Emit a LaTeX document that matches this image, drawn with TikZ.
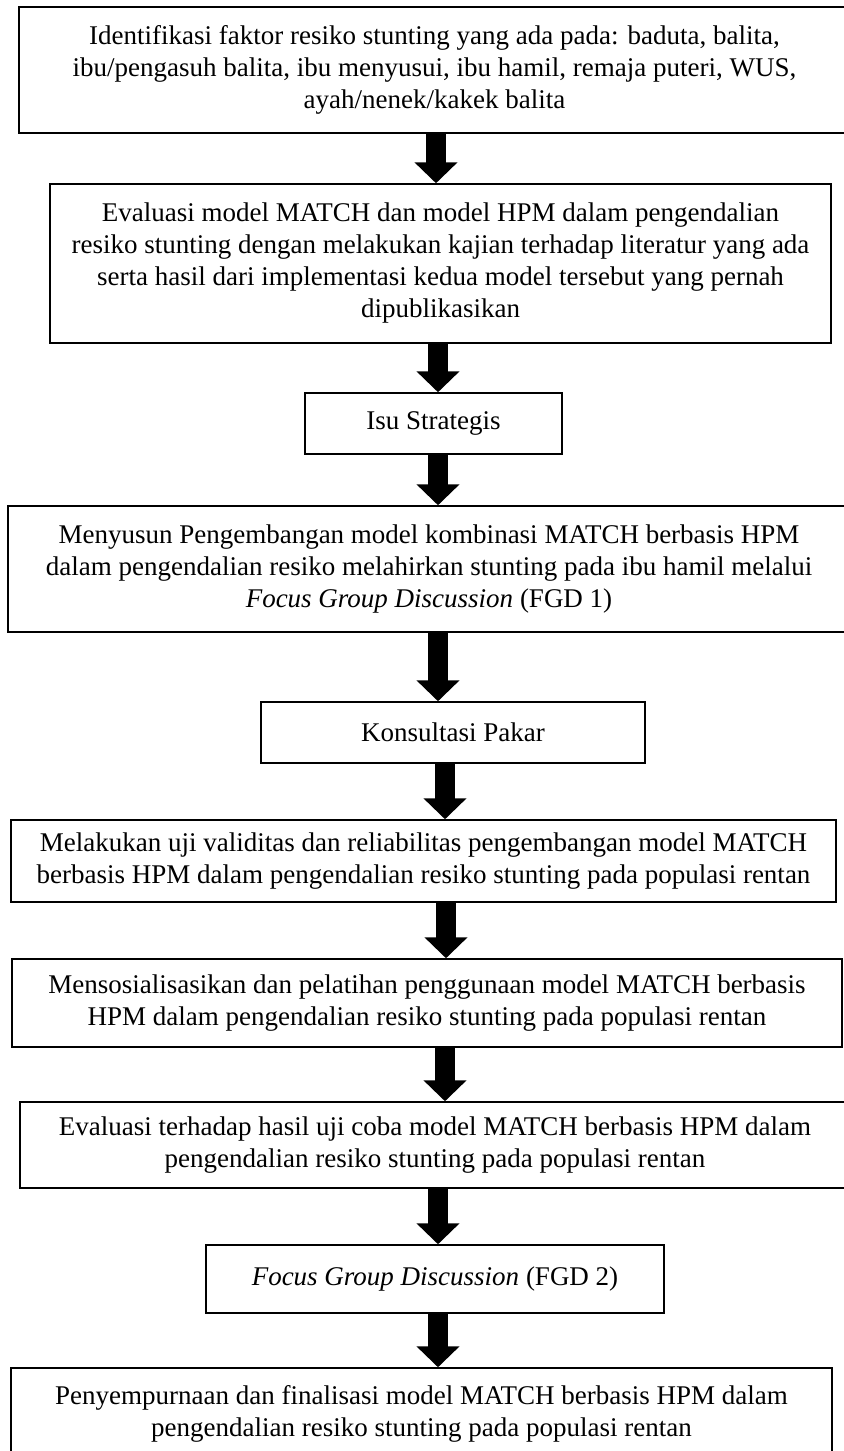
\documentclass[tikz,border=0pt]{standalone}
\usepackage{fontspec}
\setmainfont{Liberation Serif}
\usetikzlibrary{arrows.meta}
\begin{document}
\begin{tikzpicture}[x=0.5pt,y=-0.5pt,
  box/.style={draw=black, line width=0.75pt, align=center, inner sep=0pt,
    font=\fontsize{13.5}{16}\selectfont},
  bigarrow/.style={line width=10pt, -{Triangle[width=21pt,length=10.5pt]}}]
\useasboundingbox (0,0) rectangle (843,1451);
\node[box, minimum width=415.5pt, minimum height=63pt] (b1) at (434.5,70)
  {Identifikasi faktor resiko stunting yang ada pada: baduta, balita,\\
   ibu/pengasuh balita, ibu menyusui, ibu hamil, remaja puteri, WUS,\\
   ayah/nenek/kakek balita};
\node[box, minimum width=390.5pt, minimum height=79.5pt] (b2) at (440.5,263.5)
  {Evaluasi model MATCH dan model HPM dalam pengendalian\\
   resiko stunting dengan melakukan kajian terhadap literatur yang ada\\
   serta hasil dari implementasi kedua model tersebut yang pernah\\
   dipublikasikan};
\node[box, minimum width=128.5pt, minimum height=30.5pt] (b3) at (433.5,423.5)
  {Isu Strategis};
\node[box, minimum width=421pt, minimum height=63pt] (b4) at (429,569)
  {Menyusun Pengembangan model kombinasi MATCH berbasis HPM\\
   dalam pengendalian resiko melahirkan stunting pada ibu hamil melalui\\
   \textit{Focus Group Discussion} (FGD 1)};
\node[box, minimum width=192pt, minimum height=30.5pt] (b5) at (453,732.5)
  {Konsultasi Pakar};
\node[box, minimum width=412.5pt, minimum height=41pt] (b6) at (423.5,861)
  {Melakukan uji validitas dan reliabilitas pengembangan model MATCH\\
   berbasis HPM dalam pengendalian resiko stunting pada populasi rentan};
\node[box, minimum width=415pt, minimum height=44pt] (b7) at (427,1003)
  {Mensosialisasikan dan pelatihan penggunaan model MATCH berbasis\\
   HPM dalam pengendalian resiko stunting pada populasi rentan};
\node[box, minimum width=415pt, minimum height=43pt] (b8) at (435,1145)
  {Evaluasi terhadap hasil uji coba model MATCH berbasis HPM dalam\\
   pengendalian resiko stunting pada populasi rentan};
\node[box, minimum width=229pt, minimum height=34pt] (b9) at (435,1279)
  {\textit{Focus Group Discussion} (FGD 2)};
\node[box, minimum width=410.5pt, minimum height=46pt] (b10) at (421.5,1414)
  {Penyempurnaan dan finalisasi model MATCH berbasis HPM dalam\\
   pengendalian resiko stunting pada populasi rentan};
\draw[bigarrow] (b1.south -| 436,0) -- (b2.north -| 436,0);
\draw[bigarrow] (b2.south -| 438,0) -- (b3.north -| 438,0);
\draw[bigarrow] (b3.south -| 438,0) -- (b4.north -| 438,0);
\draw[bigarrow] (b4.south -| 438,0) -- (b5.north -| 438,0);
\draw[bigarrow] (b5.south -| 445,0) -- (b6.north -| 445,0);
\draw[bigarrow] (b6.south -| 446,0) -- (b7.north -| 446,0);
\draw[bigarrow] (b7.south -| 445,0) -- (b8.north -| 445,0);
\draw[bigarrow] (b8.south -| 438,0) -- (b9.north -| 438,0);
\draw[bigarrow] (b9.south -| 438,0) -- (b10.north -| 438,0);
\end{tikzpicture}
\end{document}
